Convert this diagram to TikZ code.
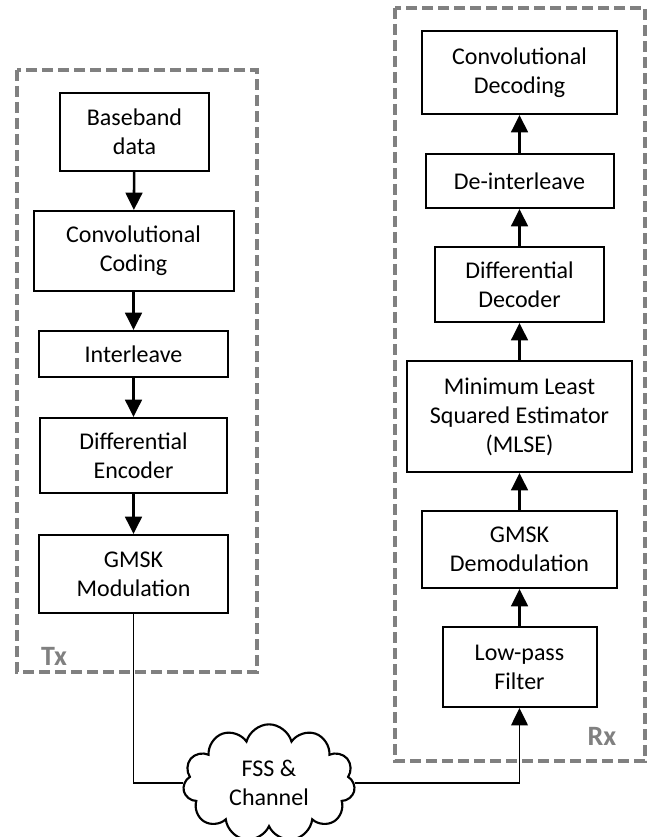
\documentclass[tikz,border=0pt]{standalone}
\usepackage{fontspec}
\setmainfont{Carlito}
\usetikzlibrary{arrows.meta,shapes.symbols}

\begin{document}
\begin{tikzpicture}[x=0.75pt, y=-0.75pt, font=\fontsize{18}{21.7}\selectfont,
	blk/.style={draw, line width=1.5pt, align=center, inner sep=0pt},
	flow/.style={line width=1.9pt, -{Triangle[length=13pt,width=12.5pt]}},
	wire/.style={line width=1.1pt},
	frame/.style={draw=gray, line width=2.6pt, dash pattern=on 8.5pt off 3.5pt},
	tag/.style={text=gray, font=\fontsize{21}{25}\selectfont\bfseries}]
	\useasboundingbox (0,0) rectangle (654,837);
	\draw[frame] (17,70) rectangle (257,672);
	\draw[frame] (395,8) rectangle (645,761);
	\node[tag] (tx) at (54,656) {Tx};
	\node[tag] (rx) at (602,736) {Rx};
	\node[blk, minimum width=111.75pt, minimum height=58.5pt] (bb) at (134.5,132) {Baseband\\data};
	\node[blk, minimum width=150pt, minimum height=60pt] (cc) at (133.5,251) {Convolutional\\Coding};
	\node[blk, minimum width=141.75pt, minimum height=34.5pt] (il) at (133.5,354) {Interleave};
	\node[blk, minimum width=140.25pt, minimum height=56.25pt] (de) at (133.5,455.5) {Differential\\Encoder};
	\node[blk, minimum width=141.75pt, minimum height=58.5pt] (gm) at (133.5,574) {GMSK\\Modulation};
	\node[blk, minimum width=146.25pt, minimum height=62.25pt] (cd) at (519.5,72.5) {Convolutional\\Decoding};
	\node[blk, minimum width=141pt, minimum height=40.5pt] (di) at (519.5,181) {De-interleave};
	\node[blk, minimum width=126.75pt, minimum height=56.25pt] (dd) at (519.5,284.5) {Differential\\Decoder};
	\node[blk, minimum width=168.75pt, minimum height=83.25pt] (ml) at (519.5,416.5) {Minimum Least\\Squared Estimator\\(MLSE)};
	\node[blk, minimum width=146.25pt, minimum height=57.75pt] (gd) at (519.5,549.5) {GMSK\\Demodulation};
	\node[blk, minimum width=115.5pt, minimum height=60pt] (lp) at (519.5,667) {Low-pass\\Filter};
	\node[cloud, draw, line width=1.6pt, cloud puffs=11, cloud ignores aspect, align=center, fill=white,
	  minimum width=129pt, minimum height=88pt, inner sep=0pt] (ch) at (269,783) {FSS \&\\Channel};
	\draw[flow] (bb) -- (cc);
	\draw[flow] (cc) -- (il);
	\draw[flow] (il) -- (de);
	\draw[flow] (de) -- (gm);
	\draw[wire] (gm.south) |- (ch.west);
	\draw[wire, -{Triangle[length=13pt,width=12.5pt]}] (ch.east) -| (lp.south);
	\draw[flow] (gd) -- (ml);
	\draw[flow] (ml) -- (dd);
	\draw[flow] (dd) -- (di);
	\draw[flow] (di) -- (cd);
	\draw[flow] (lp) -- (gd);
\end{tikzpicture}
\end{document}
